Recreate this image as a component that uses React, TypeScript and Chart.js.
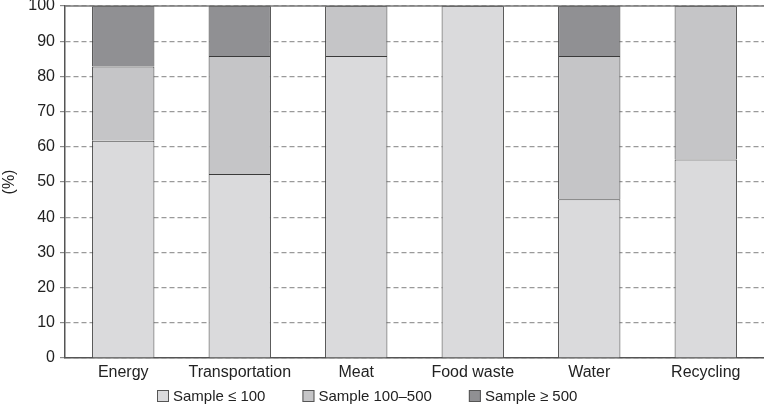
import React, { useEffect, useRef } from "react";
import { Chart, registerables } from "chart.js";

Chart.register(...registerables);

const categories = ["Energy", "Transportation", "Meat", "Food waste", "Water", "Recycling"];
const seriesNames = ["Sample \u2264 100", "Sample 100\u2013500", "Sample \u2265 500"];
const small = [61.7, 52.3, 85.8, 100, 45.1, 56.4];
const medium = [21.1, 33.5, 14.2, null, 40.7, 43.6];
const large = [17.2, 14.2, null, null, 14.2, null];
const yTicks = [0, 10, 20, 30, 40, 50, 60, 70, 80, 90, 100];
const colors = ["#dadadc", "#c5c5c7", "#909093"];

const FONT = "'Liberation Sans', Arial, Helvetica, sans-serif";

const extras = {
  id: "extras",
  afterDraw(chart: any) {
    const { ctx, chartArea } = chart;
    ctx.save();
    // solid top border
    ctx.strokeStyle = "#7a7a7a";
    ctx.lineWidth = 1.5;
    ctx.beginPath();
    ctx.moveTo(chartArea.left, chartArea.top);
    ctx.lineTo(chartArea.right, chartArea.top);
    ctx.stroke();
    // legend
    ctx.font = "15px " + FONT;
    ctx.textBaseline = "middle";
    const y = 396;
    const box = 12;
    const gap = 4;
    const spacing = 37;
    const widths = seriesNames.map((n) => box + gap + ctx.measureText(n).width);
    let x = 157;
    seriesNames.forEach((n, i) => {
      ctx.fillStyle = colors[i];
      ctx.fillRect(x, y - box / 2, box, box);
      ctx.strokeStyle = "#555";
      ctx.lineWidth = 1;
      ctx.strokeRect(x + 0.5, y - box / 2 + 0.5, box - 1, box - 1);
      ctx.fillStyle = "#222";
      ctx.textAlign = "left";
      ctx.fillText(n, x + box + gap, y + 1);
      x += widths[i] + spacing;
    });
    ctx.restore();
  },
};

export default function App() {
  const ref = useRef<HTMLCanvasElement | null>(null);
  useEffect(() => {
    document.body.style.margin = "0";
    const canvas = ref.current;
    if (!canvas) return;
    const mk = (label: string, data: any[], i: number) => ({
      label,
      data,
      backgroundColor: colors[i],
      borderColor: "#3a3a3a",
      borderWidth: 1,
      barPercentage: 0.535,
      categoryPercentage: 1,
    });
    const chart = new Chart(canvas, {
      type: "bar",
      data: {
        labels: categories,
        datasets: [mk(seriesNames[0], small, 0), mk(seriesNames[1], medium, 1), mk(seriesNames[2], large, 2)],
      },
      options: {
        responsive: false,
        animation: false,
        layout: { padding: { top: 6, right: 0, bottom: 16, left: 0 } },
        plugins: { legend: { display: false }, tooltip: { enabled: false } },
        scales: {
          x: {
            stacked: true,
            grid: { display: false, drawTicks: false },
            border: { color: "#555", width: 1.5 },
            ticks: { color: "#222", font: { size: 16, family: FONT }, padding: 5 },
            afterFit: (s: any) => {
              s.height = 35;
              s.paddingLeft = 0;
              s.paddingRight = 0;
            },
          },
          y: {
            stacked: true,
            min: 0,
            max: 100,
            afterBuildTicks: (s: any) => {
              s.ticks = yTicks.map((v) => ({ value: v }));
            },
            grid: { color: "#9a9a9a", lineWidth: 1.2, tickColor: "#8a8a8a", tickLength: 5 },
            border: { color: "#555", width: 1.5, dash: [5, 3] },
            ticks: { color: "#222", font: { size: 16, family: FONT }, padding: 5 },
            title: { display: true, text: "(%)", color: "#222", font: { size: 16, family: FONT }, padding: 0 },
            afterFit: (s: any) => {
              s.width = 65;
              s.paddingTop = 0;
              s.paddingBottom = 0;
            },
          },
        },
      },
      plugins: [extras],
    });
    return () => chart.destroy();
  }, []);
  return (
    <div style={{ width: 764, height: 409 }}>
      <canvas ref={ref} width={764} height={409} />
    </div>
  );
}
